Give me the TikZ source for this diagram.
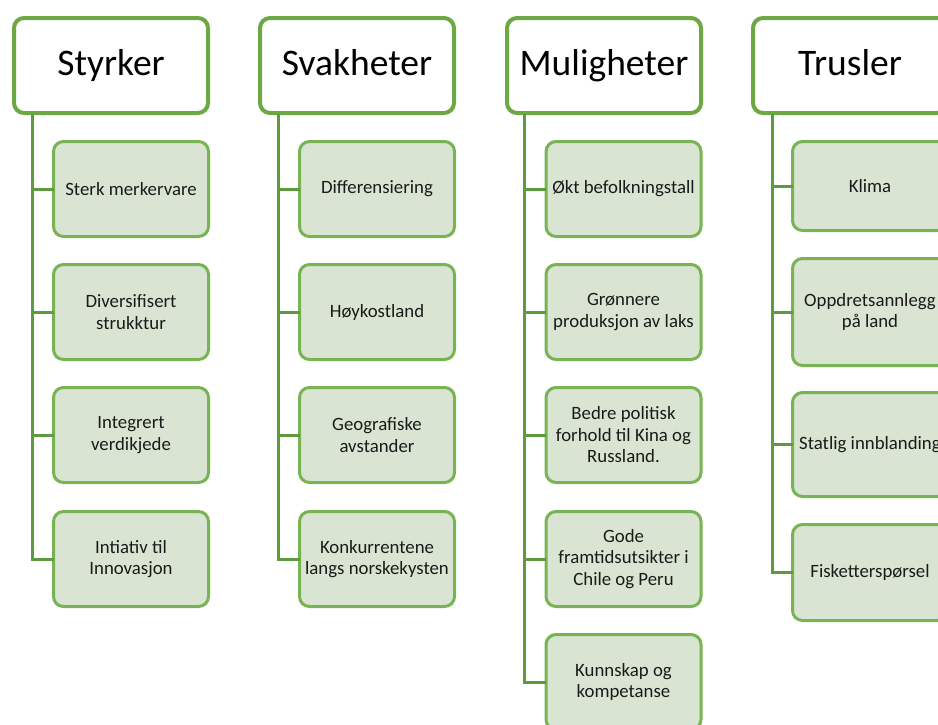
\documentclass[tikz,border=0pt]{standalone}
\usepackage{fontspec}
\setmainfont{Carlito}
\definecolor{hdrborder}{HTML}{6DA845}
\definecolor{chborder}{HTML}{78B453}
\definecolor{chfill}{HTML}{D9E5D2}
\definecolor{connline}{HTML}{5E9A3E}
\definecolor{txt}{HTML}{1A1A1A}
\tikzset{
  hdr/.style={draw=hdrborder, line width=4pt, fill=white, rounded corners=10pt,
    minimum width=194pt, minimum height=95pt, inner sep=0pt, outer sep=0pt,
    text height=27pt, text depth=8pt,
    font=\fontsize{37.5}{40}\selectfont, text=black},
  child/.style={draw=chborder, line width=3pt, fill=chfill, rounded corners=10pt,
    minimum width=155pt, minimum height=95pt, inner sep=0pt, outer sep=0pt,
    align=center, font=\fontsize{18.8}{21.5}\selectfont, text=txt},
  conn/.style={draw=connline, line width=3pt}
}
\begin{document}
\begin{tikzpicture}[x=1pt,y=-1pt]
\clip (0,0) rectangle (938,724);
\fill[white] (0,0) rectangle (938,724);
\coordinate (l1) at (32,114);
\coordinate (l2) at (278,114);
\coordinate (l3) at (524,114);
\coordinate (l4) at (772,114);

% headers
\node[hdr] (h1) at (111,65.5) {Styrker};
\node[hdr] (h2) at (357,65.5) {Svakheter};
\node[hdr] (h3) at (604,65.5) {Muligheter};
\node[hdr] (h4) at (850,65.5) {Trusler};

% Styrker children
\node[child] (s1) at (131,189) {Sterk merkervare};
\node[child] (s2) at (131,312) {Diversifisert\\strukktur};
\node[child] (s3) at (131,435) {Integrert\\verdikjede};
\node[child] (s4) at (131,559) {Intiativ til\\Innovasjon};

% Svakheter children
\node[child] (w1) at (377,189) {Differensiering};
\node[child] (w2) at (377,312) {Høykostland};
\node[child] (w3) at (377,435) {Geografiske\\avstander};
\node[child] (w4) at (377,559) {Konkurrentene\\langs norskekysten};

% Muligheter children
\node[child] (m1) at (623.5,189) {Økt befolkningstall};
\node[child] (m2) at (623.5,312) {Grønnere\\produksjon av laks};
\node[child] (m3) at (623.5,435) {Bedre politisk\\forhold til Kina og\\Russland.};
\node[child] (m4) at (623.5,559) {Gode\\framtidsutsikter i\\Chile og Peru};
\node[child] (m5) at (623.5,682) {Kunnskap og\\kompetanse};

% Trusler children
\node[child, minimum height=89pt] (t1) at (870,186) {Klima};
\node[child, minimum height=107pt] (t2) at (870,312) {Oppdretsannlegg\\på land};
\node[child, minimum height=104pt] (t3) at (870,444.5) {Statlig innblanding};
\node[child, minimum height=96pt] (t4) at (870,572.5) {Fisketterspørsel};

% connectors
\draw[conn] (l1) |- (s4.west);
\foreach \c in {s1,s2,s3} \draw[conn] (\c.west -| l1) -- (\c.west);
\draw[conn] (l2) |- (w4.west);
\foreach \c in {w1,w2,w3} \draw[conn] (\c.west -| l2) -- (\c.west);
\draw[conn] (l3) |- (m5.west);
\foreach \c in {m1,m2,m3,m4} \draw[conn] (\c.west -| l3) -- (\c.west);
\draw[conn] (l4) |- (t4.west);
\foreach \c in {t1,t2,t3} \draw[conn] (\c.west -| l4) -- (\c.west);
\end{tikzpicture}
\end{document}
